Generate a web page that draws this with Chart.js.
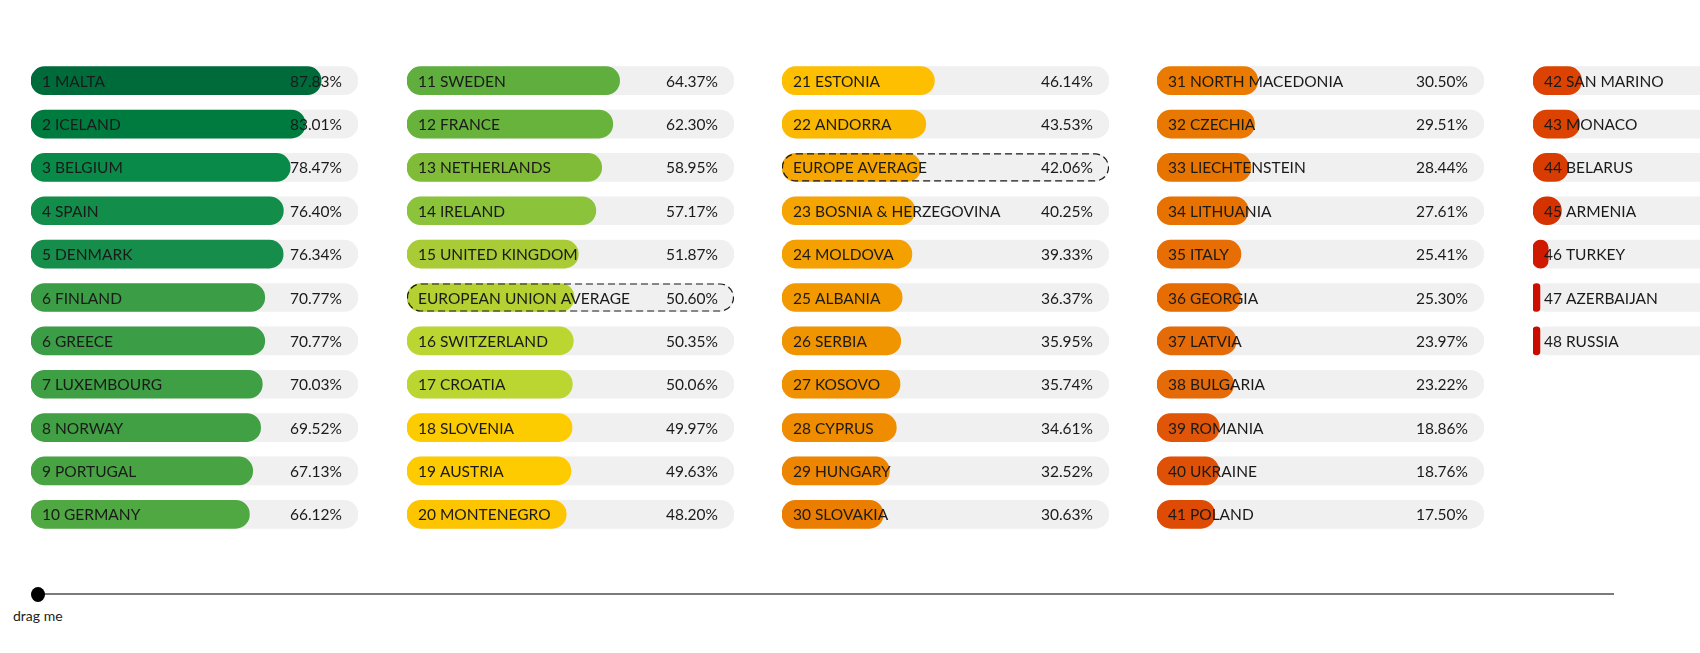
<!DOCTYPE html>
<html>
<head>
<meta charset="utf-8">
<script src="https://cdn.jsdelivr.net/npm/chart.js@4"></script>
<style>
    html, body { margin: 0; padding: 0; background: #fff; overflow: hidden; }
    body { width: 1700px; height: 653px; position: relative; font-family: Lato, sans-serif; }
    .col { position: absolute; top: 59px; width: 327px; height: 477px; }
    .track { position: absolute; left: 38px; top: 593px; width: 1576px; height: 2px; background: #7a7a7a; }
    .knob { position: absolute; left: 31px; top: 587px; width: 14px; height: 15px; border-radius: 50%; background: #000; }
    .drag { position: absolute; left: 13px; top: 607px; font-size: 14px; color: #222; }
</style>
</head>
<body>
<div class="col" style="left:31px"><canvas id="col1"></canvas></div>
<div class="col" style="left:407px"><canvas id="col2"></canvas></div>
<div class="col" style="left:782px"><canvas id="col3"></canvas></div>
<div class="col" style="left:1157px"><canvas id="col4"></canvas></div>
<div class="col" style="left:1533px"><canvas id="col5"></canvas></div>
<div class="track"></div>
<div class="knob"></div>
<div class="drag">drag me</div>

<script>
const countries = [
    '1 MALTA', '2 ICELAND', '3 BELGIUM', '4 SPAIN', '5 DENMARK', '6 FINLAND', '6 GREECE', '7 LUXEMBOURG', '8 NORWAY', '9 PORTUGAL', '10 GERMANY',
    '11 SWEDEN', '12 FRANCE', '13 NETHERLANDS', '14 IRELAND', '15 UNITED KINGDOM', 'EUROPEAN UNION AVERAGE', '16 SWITZERLAND', '17 CROATIA', '18 SLOVENIA', '19 AUSTRIA', '20 MONTENEGRO',
    '21 ESTONIA', '22 ANDORRA', 'EUROPE AVERAGE', '23 BOSNIA & HERZEGOVINA', '24 MOLDOVA', '25 ALBANIA', '26 SERBIA', '27 KOSOVO', '28 CYPRUS', '29 HUNGARY', '30 SLOVAKIA',
    '31 NORTH MACEDONIA', '32 CZECHIA', '33 LIECHTENSTEIN', '34 LITHUANIA', '35 ITALY', '36 GEORGIA', '37 LATVIA', '38 BULGARIA', '39 ROMANIA', '40 UKRAINE', '41 POLAND',
    '42 SAN MARINO', '43 MONACO', '44 BELARUS', '45 ARMENIA', '46 TURKEY', '47 AZERBAIJAN', '48 RUSSIA'
];

const scores = [
    87.83, 83.01, 78.47, 76.40, 76.34, 70.77, 70.77, 70.03, 69.52, 67.13, 66.12,
    64.37, 62.30, 58.95, 57.17, 51.87, 50.60, 50.35, 50.06, 49.97, 49.63, 48.20,
    46.14, 43.53, 42.06, 40.25, 39.33, 36.37, 35.95, 35.74, 34.61, 32.52, 30.63,
    30.50, 29.51, 28.44, 27.61, 25.41, 25.30, 23.97, 23.22, 18.86, 18.76, 17.50,
    14.7, 14.1, 10.7, 8.6, 4.6, 2.1, 2.1
];

const barColours = [
    '#006b3a', '#007b40', '#0a8a48', '#138d4a', '#168d4b', '#3b9d45', '#3b9d45', '#3e9f44', '#41a044', '#48a443', '#50a843',
    '#5fae3e', '#68b33c', '#80bc38', '#8bc33a', '#a9cb35', '#b4d031', '#bcd631', '#bcd631', '#fdcc00', '#fdcb00', '#fdc500',
    '#fdbf00', '#fbb800', '#f5a600', '#f6a500', '#f4a000', '#f29900', '#f09500', '#ef9100', '#ef8c00', '#ed8500', '#eb7e00',
    '#ea7b00', '#e97800', '#e87400', '#e77200', '#e66e04', '#e66d04', '#e56a08', '#e56a08', '#e05508', '#df5106', '#dd4b04',
    '#dc4302', '#dc4200', '#d83c00', '#d53200', '#cf1a00', '#cb1000', '#c80c00'
];

const averageRows = ['EUROPEAN UNION AVERAGE', 'EUROPE AVERAGE'];
const columnStarts = [0, 11, 22, 33, 44, 51];
const trackValue = 99;

const labelPlugin = {
    id: 'rowLabels',
    afterDatasetsDraw(chart) {
        const ctx = chart.ctx;
        const track = chart.getDatasetMeta(0).data;
        const names = chart.data.labels;
        const vals = chart.data.datasets[1].data;
        ctx.save();
        track.forEach((bar, i) => {
            const left = bar.base;
            const right = bar.x;
            const h = bar.height;
            if (averageRows.includes(names[i])) {
                ctx.beginPath();
                ctx.setLineDash([7, 4]);
                ctx.lineWidth = 1.2;
                ctx.strokeStyle = '#1a1a1a';
                ctx.roundRect(left + 0.5, bar.y - h / 2 + 0.5, right - left - 1, h - 1, h / 2);
                ctx.stroke();
                ctx.setLineDash([]);
            }
            ctx.fillStyle = '#1a1a1a';
            ctx.font = '15.5px Lato, sans-serif';
            ctx.textBaseline = 'middle';
            ctx.textAlign = 'left';
            ctx.fillText(names[i], left + 11, bar.y + 1);
            ctx.textAlign = 'right';
            ctx.fillText(vals[i].toFixed(2) + '%', left + 311, bar.y + 1);
        });
        ctx.restore();
    }
};

function drawColumn(id, from, to) {
    const names = countries.slice(from, to);
    const vals = scores.slice(from, to);
    const cols = barColours.slice(from, to);
    const rows = 11;
    // pad short columns so row spacing stays the same
    const slots = names.slice();
    while (slots.length < rows) slots.push('');
    new Chart(document.getElementById(id), {
        type: 'bar',
        data: {
            labels: names,
            datasets: [{
                data: vals.map(() => trackValue),
                backgroundColor: '#f0f0f0',
                borderRadius: 14,
                borderSkipped: false,
                barThickness: 28,
                grouped: false,
                order: 2
            }, {
                data: vals,
                backgroundColor: cols,
                borderRadius: 14,
                borderSkipped: false,
                barThickness: 28,
                grouped: false,
                order: 1
            }]
        },
        options: {
            indexAxis: 'y',
            responsive: true,
            maintainAspectRatio: false,
            animation: false,
            layout: { padding: 0 },
            plugins: { legend: { display: false }, tooltip: { enabled: false } },
            scales: {
                x: { display: false, min: 0, max: trackValue },
                y: { display: false, min: 0, max: rows - 1, type: 'category', labels: slots }
            }
        },
        plugins: [labelPlugin]
    });
}

for (let c = 0; c < 5; c++) {
    drawColumn('col' + (c + 1), columnStarts[c], columnStarts[c + 1]);
}
</script>
</body>
</html>
